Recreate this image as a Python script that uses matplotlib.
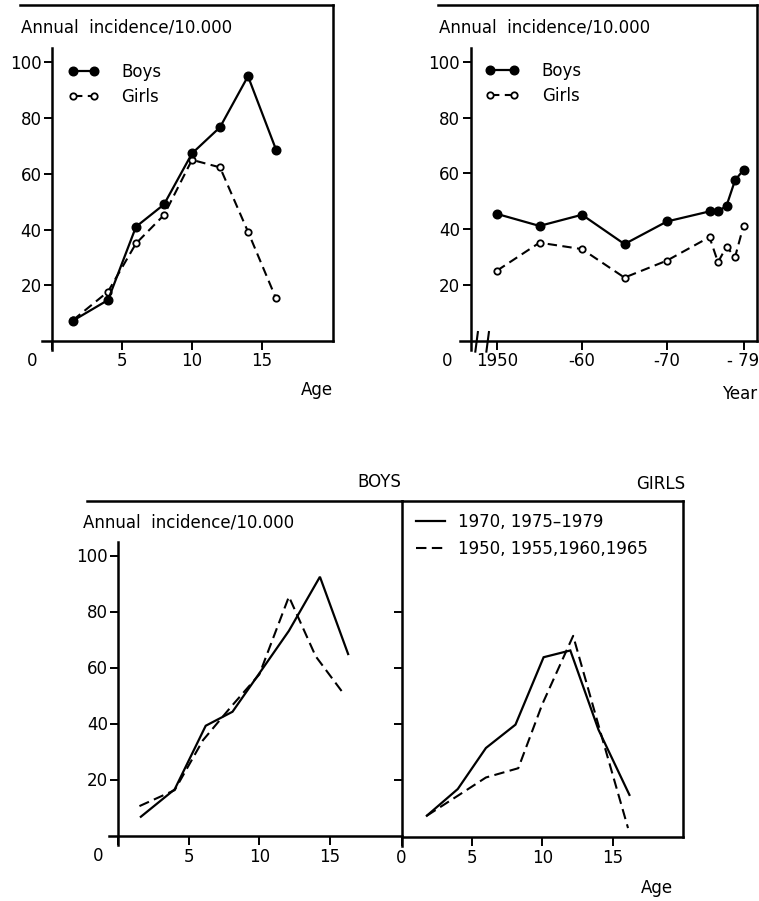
import matplotlib
matplotlib.use("Agg")
import matplotlib.pyplot as plt

W, H = 759, 901
plt.rcParams['font.family'] = ['DejaVu Sans']
FS = 12

# incidence by age, boys and girls
ages = [1.5, 4, 6, 8, 10, 12, 14, 16]
boys_by_age = [7.3, 14.7, 41, 49, 67.3, 76.7, 95, 68.7]
girls_by_age = [7.5, 17.7, 35, 45.2, 65, 62.3, 39.2, 15.3]

# incidence by calendar year
years = [1950, 1955, 1960, 1965, 1970, 1975, 1976, 1977, 1978, 1979]
boys_by_year = [45.5, 41.2, 45.2, 34.7, 42.8, 46.4, 46.4, 48.4, 57.5, 61.3]
girls_by_year = [25.2, 35.2, 32.9, 22.7, 28.8, 37.2, 28.2, 33.8, 30.0, 41.2]

# boys, late period (1970, 1975-79) vs early (1950-65)
boys_late_age = [1.6, 4, 6.2, 8.1, 10, 12.1, 14.3, 16.3]
boys_late = [6.7, 16.5, 39.2, 44.2, 57.9, 73.1, 92.4, 64.8]
boys_early_age = [1.5, 4, 6, 8, 10, 12.1, 14, 16]
boys_early = [10.5, 16.2, 34, 46, 57.5, 85.3, 64, 50.5]

# girls, same periods
girls_late_age = [1.8, 4, 6, 8.1, 10.1, 12, 14, 16.2]
girls_late = [7.4, 16.9, 31.5, 39.8, 63.8, 66.2, 38, 14.8]
girls_early_age = [1.8, 4, 6, 8.3, 10, 12.2, 14, 16.1]
girls_early = [7.4, 14.5, 21, 24.3, 47, 71.4, 39.6, 3]

yticks = [20, 40, 60, 80, 100]
age_ticks = [0, 5, 10, 15]
year_ticks = [1950, 1960, 1970, 1979]
year_labels = ['1950', '-60', '-70', '- 79']

fig = plt.figure(figsize=(W / 100, H / 100), dpi=100)


def panel(left, top, right, bottom, x0, sx, y0, sy):
    # axes placed in pixels; x0/y0 are where data zero sits, sx/sy px per unit
    ax = fig.add_axes([left / W, 1 - bottom / H, (right - left) / W, (bottom - top) / H])
    ax.set_xlim((left - x0) / sx, (right - x0) / sx)
    ax.set_ylim((y0 - bottom) / sy, (y0 - top) / sy)
    ax.patch.set_visible(False)
    for s in ax.spines.values():
        s.set_linewidth(1.8)
        s.set_capstyle('projecting')
    ax.spines['bottom'].set_position(('data', 0))
    ax.spines['right'].set_bounds(0, ax.get_ylim()[1])
    ax.tick_params(direction='out', width=1.4, labelsize=FS, colors='black')
    ax.tick_params(axis='y', length=6, pad=1.5)
    ax.tick_params(axis='x', length=6.5, pad=1.5)
    return ax


def corner_zero(ax, x):
    ax.annotate('0', xy=(x, 0), xycoords='data', xytext=(0, -8), textcoords='offset points',
                ha='center', va='top', fontsize=FS)


solid = dict(color='black', lw=1.6, solid_joinstyle='miter')
dashed = dict(color='black', lw=1.5, ls=(0, (4.5, 2.6)))

# ---- top left: by age
ax1 = panel(20, 5, 333, 356, 52, 14, 341, 2.787)
ax1.spines['left'].set_position(('data', 0))
ax1.spines['left'].set_bounds(-3.3, 105)
ax1.spines['bottom'].set_bounds(-0.7, ax1.get_xlim()[1])
ax1.plot(ages, girls_by_age, marker='o', ms=4.6, mfc='white', mec='black', mew=1.3,
         label='Girls', **dashed)
ax1.plot(ages, boys_by_age, marker='o', ms=6.2, mfc='black', mec='black',
         label='Boys', **solid)
ax1.set_xticks(age_ticks, ['', '5', '10', '15'])
ax1.set_yticks(yticks)
corner_zero(ax1, -1.43)
h, l = ax1.get_legend_handles_labels()
ax1.legend(h[::-1], l[::-1], numpoints=2, frameon=False, fontsize=FS, loc='upper left',
           bbox_to_anchor=(68 / W, 1 - 63 / H), bbox_transform=fig.transFigure,
           borderpad=0, borderaxespad=0, handlelength=1.85, handletextpad=1.35,
           labelspacing=0.42)

# ---- top right: by year (broken axis)
ax2 = panel(438, 5, 757, 356, 497 - 1950 * 8.5, 8.5, 341, 2.793)
ax2.spines['left'].set_position(('data', 1946.9))
ax2.spines['left'].set_bounds(-3.3, 105)
ax2.spines['bottom'].set_bounds(1945.6, ax2.get_xlim()[1])
for xb in (1947.6, 1948.9):
    ax2.plot([xb - 0.15, xb + 0.15], [-3.8, 3.2], color='black', lw=1.5, clip_on=False)
ax2.plot(years, girls_by_year, marker='o', ms=4.6, mfc='white', mec='black', mew=1.3,
         label='Girls', **dashed)
ax2.plot(years, boys_by_year, marker='o', ms=6.2, mfc='black', mec='black',
         label='Boys', **solid)
ax2.set_xticks(year_ticks, year_labels)
ax2.set_yticks(yticks)
corner_zero(ax2, 1944.1)
h, l = ax2.get_legend_handles_labels()
ax2.legend(h[::-1], l[::-1], numpoints=2, frameon=False, fontsize=FS, loc='upper left',
           bbox_to_anchor=(485 / W, 1 - 62 / H), bbox_transform=fig.transFigure,
           borderpad=0, borderaxespad=0, handlelength=2.05, handletextpad=1.35,
           labelspacing=0.42)

# ---- bottom left: boys, two periods
ax3 = panel(86.7, 500.7, 401.5, 851, 118.3, 14.1, 835.5, 2.8)
ax3.spines['left'].set_position(('data', 0))
ax3.spines['left'].set_bounds(-3.3, 105)
ax3.spines['bottom'].set_bounds(-0.66, ax3.get_xlim()[1])
ax3.spines['right'].set_visible(False)
ax3.plot(boys_late_age, boys_late, **solid)
ax3.plot(boys_early_age, boys_early, color='black', lw=1.5, ls=(0, (5, 2.6)))
ax3.set_xticks(age_ticks, ['', '5', '10', '15'])
ax3.set_yticks(yticks)
ax3.tick_params(axis='x', pad=2.5)
corner_zero(ax3, -1.45)

# ---- bottom right: girls, two periods
ax4 = panel(401.5, 500.7, 683.3, 851, 401.5, 14.07, 836.5, 2.81)
ax4.spines['left'].set_bounds(-3.3, ax4.get_ylim()[1])
ax4.spines['bottom'].set_bounds(0, ax4.get_xlim()[1])
ax4.plot(girls_late_age, girls_late, label='1970, 1975\u20131979', **solid)
ax4.plot(girls_early_age, girls_early, color='black', lw=1.5, ls=(0, (5, 2.6)),
         label='1950, 1955,1960,1965')
ax4.set_xticks(age_ticks, ['0', '5', '10', '15'])
ax4.set_yticks(yticks[:-1], [])
ax4.tick_params(axis='x', pad=2.5)
ax4.legend(frameon=False, fontsize=FS, loc='upper left',
           bbox_to_anchor=(416 / W, 1 - 513 / H), bbox_transform=fig.transFigure,
           borderpad=0, borderaxespad=0, handlelength=1.75, handletextpad=0.8,
           labelspacing=0.55)

# ---- titles and axis names
def ftext(x, y, s, **kw):
    fig.text(x / W, 1 - y / H, s, fontsize=FS, **kw)


ftext(21, 28, 'Annual  incidence/10.000', va='center')
ftext(439, 28, 'Annual  incidence/10.000', va='center')
ftext(82.7, 522.7, 'Annual  incidence/10.000', va='center')
ftext(333, 395, 'Age', ha='right', va='baseline')
ftext(757, 399, 'Year', ha='right', va='baseline')
ftext(673, 893, 'Age', ha='right', va='baseline')
ftext(401.7, 486.7, 'BOYS', ha='right', va='baseline')
ftext(685, 489, 'GIRLS', ha='right', va='baseline')

fig.savefig('out.png', dpi=100)
